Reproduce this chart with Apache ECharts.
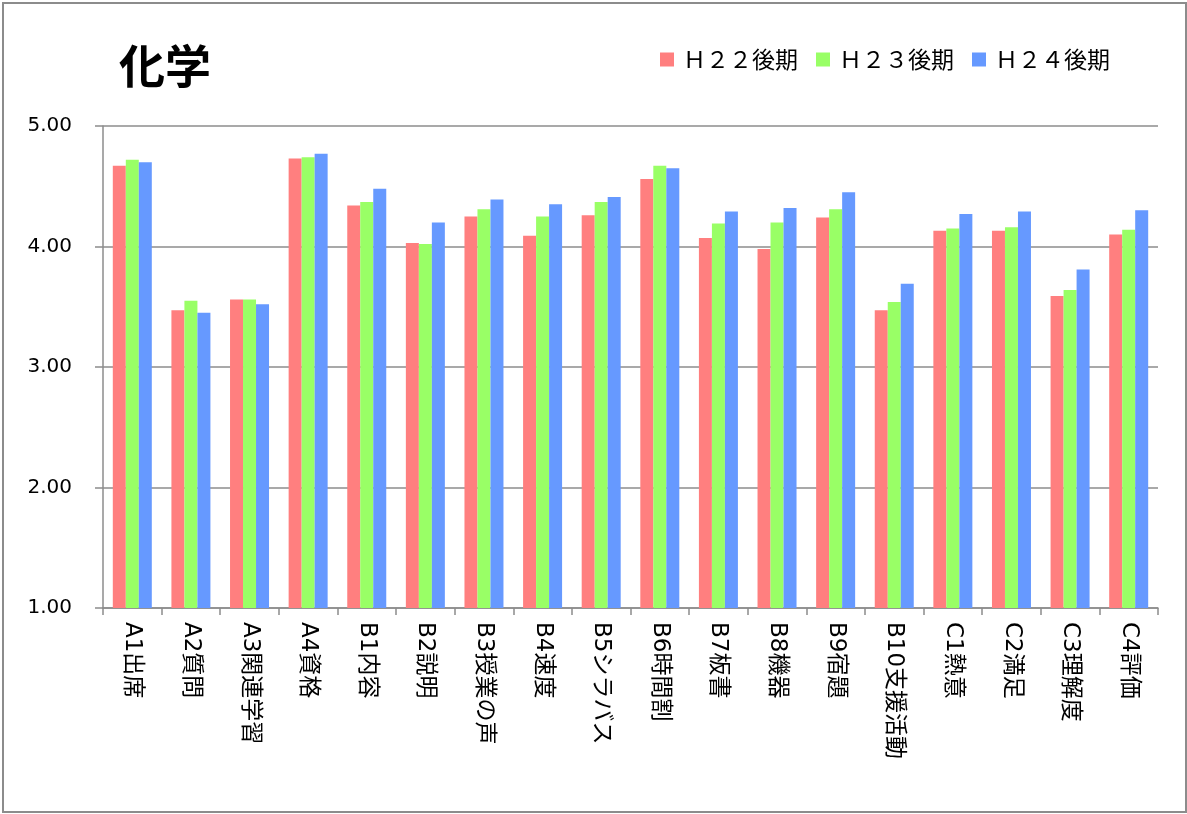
<!DOCTYPE html>
<html>
<head>
<meta charset="utf-8">
<title>化学</title>
<script src="https://cdn.jsdelivr.net/npm/echarts@6/dist/echarts.min.js"></script>
<style>
  html, body { margin: 0; padding: 0; background: #fff; }
  #main { width: 1187px; height: 814px; }
</style>
</head>
<body>
<div id="main"></div>
<script>
// 項目
var categories = ['A1出席', 'A2質問', 'A3関連学習', 'A4資格', 'B1内容', 'B2説明', 'B3授業の声', 'B4速度', 'B5シラバス',
  'B6時間割', 'B7板書', 'B8機器', 'B9宿題', 'B10支援活動', 'C1熱意', 'C2満足', 'C3理解度', 'C4評価'];
var seriesNames = ['Ｈ２２後期', 'Ｈ２３後期', 'Ｈ２４後期'];
var h22 = [4.67, 3.47, 3.56, 4.73, 4.34, 4.03, 4.25, 4.09, 4.26, 4.56, 4.07, 3.98, 4.24, 3.47, 4.13, 4.13, 3.59, 4.10];
var h23 = [4.72, 3.55, 3.56, 4.74, 4.37, 4.02, 4.31, 4.25, 4.37, 4.67, 4.19, 4.20, 4.31, 3.54, 4.15, 4.16, 3.64, 4.14];
var h24 = [4.70, 3.45, 3.52, 4.77, 4.48, 4.20, 4.39, 4.35, 4.41, 4.65, 4.29, 4.32, 4.45, 3.69, 4.27, 4.29, 3.81, 4.30];
var yTicks = [1, 2, 3, 4, 5];

var colors = ['#ff7f7f', '#99ff66', '#6699ff'];
var lineColor = '#8c8c8c';
var fontJP = '"DejaVu Sans", "Noto Sans CJK JP", sans-serif';

var chart = echarts.init(document.getElementById('main'));

var option = {
  animation: false,
  color: colors,
  textStyle: { fontFamily: fontJP, color: '#000' },
  title: {
    text: '化学',
    left: 114,
    top: 38,
    textStyle: { fontFamily: '"Noto Sans CJK JP", sans-serif', fontSize: 46, fontWeight: 'bold', color: '#000' }
  },
  legend: {
    data: seriesNames,
    left: 655,
    top: 43,
    icon: 'rect',
    itemWidth: 14,
    itemHeight: 14,
    itemGap: 18,
    textStyle: { fontFamily: '"Noto Sans CJK JP", sans-serif', fontSize: 23, color: '#000', padding: [0, 0, 0, 4] }
  },
  graphic: [{
    type: 'rect',
    silent: true,
    shape: { x: 3, y: 3, width: 1183, height: 809 },
    style: { fill: 'none', stroke: lineColor, lineWidth: 2 }
  }],
  grid: { left: 103, right: 29, top: 126, bottom: 206, containLabel: false },
  xAxis: {
    type: 'category',
    data: categories,
    axisLine: { show: true, lineStyle: { color: lineColor, width: 1.5 } },
    axisTick: { show: true, length: 7, interval: 0, lineStyle: { color: lineColor, width: 1.5 } },
    axisLabel: {
      interval: 0,
      rotate: -90,
      margin: 14,
      fontSize: 23,
      color: '#000',
      fontFamily: fontJP
    }
  },
  yAxis: {
    type: 'value',
    min: yTicks[0],
    max: yTicks[yTicks.length - 1],
    interval: 1,
    axisLine: { show: true, lineStyle: { color: lineColor, width: 1.5 } },
    axisTick: { show: true, length: 8, lineStyle: { color: lineColor, width: 1.5 } },
    axisLabel: {
      margin: 31,
      fontSize: 20,
      color: '#000',
      fontFamily: fontJP,
      formatter: function (v) { return v.toFixed(2); }
    },
    splitLine: { show: true, lineStyle: { color: lineColor, width: 1.5 } }
  },
  series: [
    { name: seriesNames[0], type: 'bar', data: h22, barWidth: 13, barGap: '0%' },
    { name: seriesNames[1], type: 'bar', data: h23, barWidth: 13, barGap: '0%' },
    { name: seriesNames[2], type: 'bar', data: h24, barWidth: 13, barGap: '0%' }
  ]
};

chart.setOption(option);
</script>
</body>
</html>
